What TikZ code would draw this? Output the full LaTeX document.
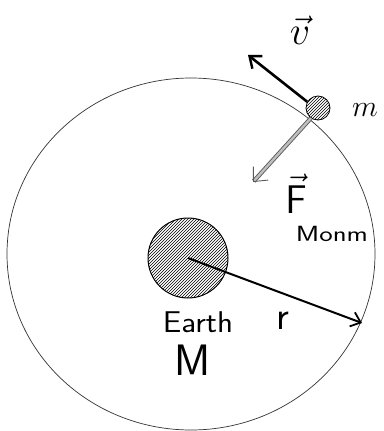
\RequirePackage{fix-cm}
\documentclass[tikz,border=0pt]{standalone}
\usetikzlibrary{patterns,arrows.meta}
\begin{document}
\begin{tikzpicture}[x=1pt,y=-1pt,
  orbit/.style={draw=black!80,line width=0.7pt},
  body/.style={circle,draw=black,line width=1pt,pattern=north east lines,inner sep=0pt},
  vecarrow/.style={line width=2.6pt,-{Straight Barb[length=10pt,width=16pt,line width=2.4pt]}},
  forcearrow/.style={draw=black!65,double=black!25,double distance=2.4pt,line width=0.9pt,-{Straight Barb[length=11pt,width=20pt]}},
  radarrow/.style={line width=2pt,-{Straight Barb[length=9pt,width=15pt,line width=1.8pt]}},
  lbl/.style={inner sep=0pt,font=\sffamily}]
\useasboundingbox (0,0) rectangle (383,431);
\draw[orbit] (191,254) ellipse [x radius=184, y radius=176];
\node[body,minimum size=80pt] (earth) at (188,258) {};
\node[body,minimum size=24pt,line width=0.8pt] (sat) at (318,108) {};
\coordinate (rend) at (362,323);
\coordinate (vend) at (248,55);
\coordinate (fend) at (253,182);
\draw[radarrow] (earth.center) -- (rend);
\draw[vecarrow] (sat.150) -- (vend);
\draw[forcearrow] (sat.235) -- (fend);
\node[lbl,font=\fontsize{40}{40}\selectfont] (v) at (300,30) {$\vec{v}$};
\node[lbl,font=\fontsize{30}{30}\selectfont] (m) at (365,110) {$m$};
\node[lbl,font=\fontsize{40}{40}\selectfont] (F) at (296,194) {$\vec{\mathsf{F}}$};
\node[lbl,font=\sffamily\fontsize{22}{22}\selectfont,xscale=1.3] (sub) at (332,234) {Monm};
\node[lbl,font=\sffamily\fontsize{30}{30}\selectfont,xscale=1.1] (earthlbl) at (198,322) {Earth};
\node[lbl,font=\sffamily\fontsize{40}{40}\selectfont] (rlbl) at (283,321) {r};
\node[lbl,font=\sffamily\fontsize{44}{44}\selectfont] (M) at (193,360) {M};
\end{tikzpicture}
\end{document}
